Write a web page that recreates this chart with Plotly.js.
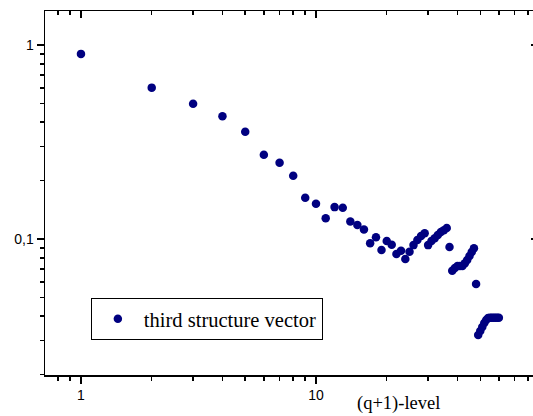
<!DOCTYPE html>
<html>
<head>
<meta charset="utf-8">
<script src="https://cdn.plot.ly/plotly-3.0.1.min.js"></script>
<style>html,body{margin:0;padding:0;background:#fff;}#chart{width:533px;height:416px;}</style>
</head>
<body>
<div id="chart"></div>
<script>
const levels = [1,2,3,4,5,6,7,8,9,10,11,12,13,14,15,16,17,18,19,20,
  21,22,23,24,25,26,27,28,29,30,31,32,33,34,35,36,37,38,39,40,
  41,42,43,44,45,46,47,48,49,50,51,52,53,54,55,56,57,58,59,60];
const thirdStructureVector = [0.90,0.603,0.498,0.429,0.357,0.272,0.247,0.212,0.163,0.152,
  0.128,0.146,0.145,0.123,0.118,0.112,0.095,0.102,0.0878,0.0977,
  0.0935,0.0837,0.087,0.0789,0.086,0.093,0.0988,0.1036,0.107,0.093,
  0.0977,0.101,0.105,0.1087,0.111,0.114,0.091,0.0687,0.0709,0.0726,
  0.0726,0.0726,0.075,0.078,0.0817,0.0857,0.0895,0.0586,0.032,0.0336,
  0.0352,0.0369,0.0382,0.0392,0.0393,0.0393,0.0393,0.0393,0.0393,0.0393];
const xTickVals = [1, 10];
const xTickText = ['1', '10'];
const xMinorVals = [0.7,0.8,0.9,2,3,4,5,6,7,8,9,20,30,40,50,60,70,80];
const yTickVals = [0.1, 1];
const yTickText = ['0,1', '1'];
const yMinorVals = [0.02,0.03,0.04,0.05,0.06,0.07,0.08,0.09,0.2,0.3,0.4,0.5,0.6,0.7,0.8,0.9];
const seriesName = 'third structure vector';
const xTitle = '(q+1)-level';

const xRange = [Math.log10(0.703), 1.9234];
const yRange = [-1.701, 0.1753];
const tickFont = {family: 'Liberation Sans, Arial, sans-serif', size: 14, color: '#000'};
const serif = 'Liberation Serif, Times New Roman, serif';

function axis(extra) {
  return Object.assign({
    type: 'log', showgrid: false, zeroline: false, showline: true,
    linecolor: '#000', linewidth: 1.5, ticks: 'outside', ticklen: 7,
    tickwidth: 1.5, tickcolor: '#000', tickfont: tickFont
  }, extra);
}

const data = [
  {x: levels, y: thirdStructureVector, type: 'scatter', mode: 'markers',
   name: seriesName, marker: {color: '#000080', size: 8.5}},
  {x: [], y: [], xaxis: 'x2', yaxis: 'y2', showlegend: false, hoverinfo: 'skip'}
];

const layout = {
  width: 533, height: 416,
  margin: {l: 45, r: 0, t: 11, b: 41},
  paper_bgcolor: '#fff', plot_bgcolor: '#fff',
  showlegend: true,
  legend: {x: 0.094, y: 0.212, xanchor: 'left', yanchor: 'top',
    bordercolor: '#000', borderwidth: 1, bgcolor: '#fff', itemwidth: 42,
    font: {family: serif, size: 20.5, color: '#000'}},
  xaxis: axis({range: xRange, tickvals: xTickVals, ticktext: xTickText,
    minor: {tickvals: xMinorVals, ticks: 'outside', ticklen: 4, tickwidth: 1.5, tickcolor: '#000', showgrid: false}}),
  yaxis: axis({range: yRange, tickvals: yTickVals, ticktext: yTickText,
    minor: {tickvals: yMinorVals, ticks: 'outside', ticklen: 4, tickwidth: 1.5, tickcolor: '#000', showgrid: false}}),
  xaxis2: axis({range: xRange, overlaying: 'x', side: 'top', anchor: 'y', ticks: 'inside',
    showticklabels: false, tickvals: xTickVals,
    minor: {tickvals: xMinorVals, ticks: 'inside', ticklen: 4, tickwidth: 1.5, tickcolor: '#000', showgrid: false}}),
  yaxis2: axis({range: yRange, overlaying: 'y', side: 'right', anchor: 'x', ticks: 'inside',
    ticklen: 2, showline: false, showticklabels: false, tickvals: yTickVals}),
  annotations: [{text: xTitle, xref: 'paper', yref: 'paper', x: 0.725, y: -0.077,
    xanchor: 'center', yanchor: 'middle', showarrow: false,
    font: {family: serif, size: 18.5, color: '#000'}}]
};

Plotly.newPlot('chart', data, layout, {displayModeBar: false, staticPlot: true});
</script>
</body>
</html>
